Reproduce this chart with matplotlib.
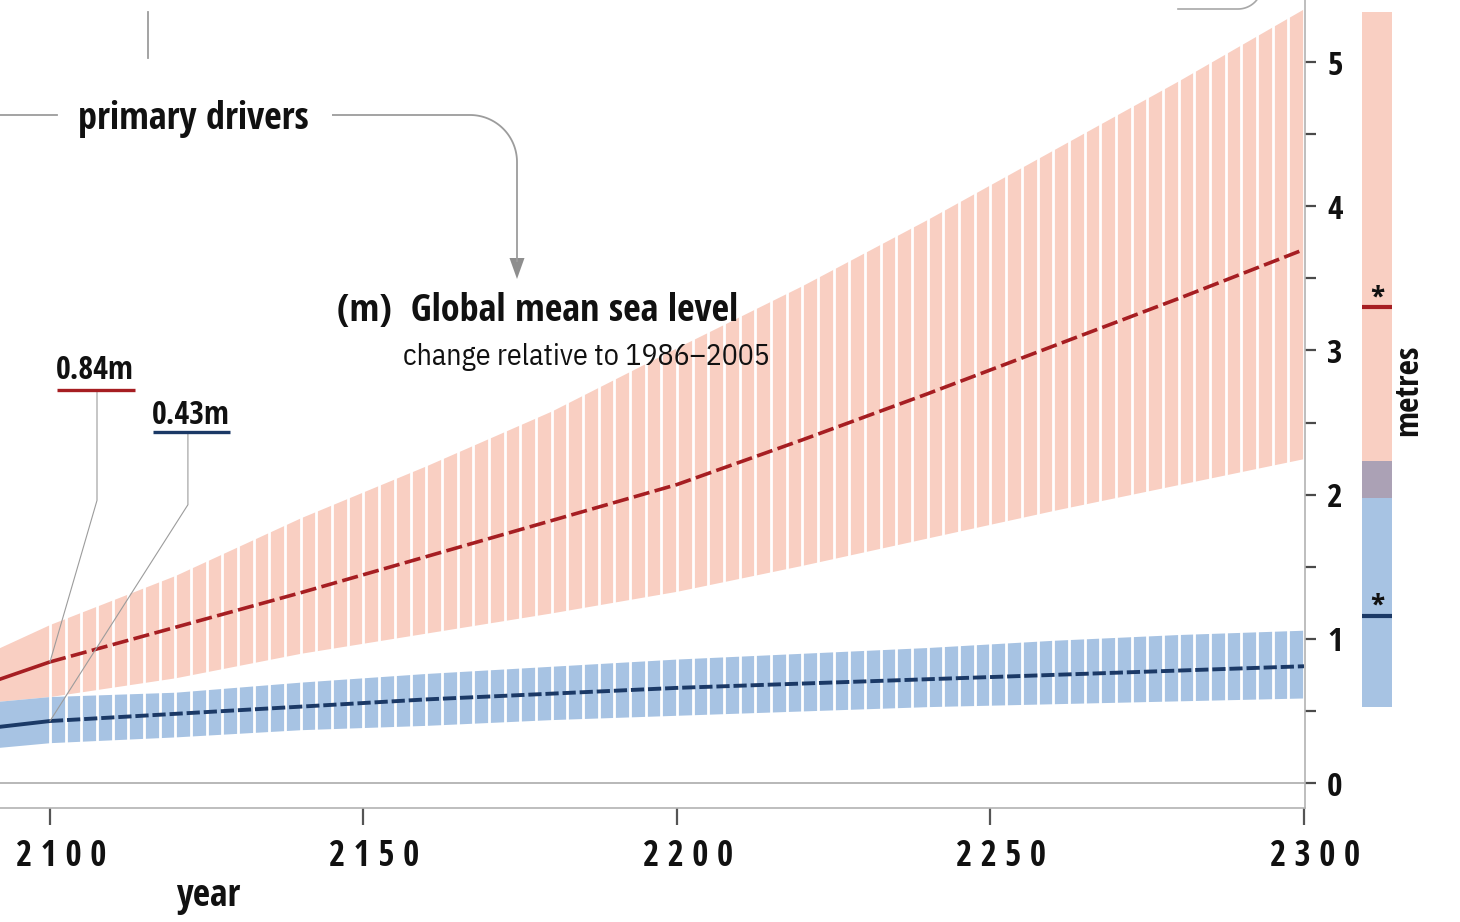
import numpy as np
import matplotlib
matplotlib.use("Agg")
import matplotlib.pyplot as plt
from matplotlib.transforms import ScaledTranslation
from matplotlib.patches import Polygon

plt.rcParams['font.family'] = ['Open Sans Condensed', 'DejaVu Sans']
plt.rcParams['font.weight'] = 'bold'

# ---- projections of global mean sea level (m, relative to 1986-2005) ----
years = [2090, 2100, 2120, 2140, 2160, 2180, 2200, 2220, 2240, 2260, 2280, 2300]

rcp85_median = [0.69, 0.84, 1.08, 1.32, 1.57, 1.82, 2.07, 2.38, 2.70, 3.03, 3.36, 3.70]
rcp85_low = [0.56, 0.60, 0.73, 0.90, 1.04, 1.18, 1.33, 1.51, 1.70, 1.89, 2.07, 2.25]
rcp85_high = [0.90, 1.10, 1.44, 1.84, 2.20, 2.58, 3.02, 3.45, 3.91, 4.39, 4.87, 5.37]

rcp26_median = [0.38, 0.43, 0.48, 0.53, 0.58, 0.62, 0.66, 0.69, 0.72, 0.75, 0.78, 0.81]
rcp26_low = [0.24, 0.28, 0.32, 0.37, 0.40, 0.44, 0.47, 0.50, 0.53, 0.55, 0.57, 0.59]
rcp26_high = [0.56, 0.60, 0.63, 0.70, 0.76, 0.81, 0.86, 0.90, 0.94, 0.99, 1.03, 1.06]

# ranges for 2300 shown in the side bar
bar_rcp85 = (1.98, 5.35)
bar_rcp26 = (0.53, 2.23)
bar_rcp85_median = 3.30
bar_rcp26_median = 1.16

label_year = 2100
xticks = [2100, 2150, 2200, 2250, 2300]
yticks = [0, 1, 2, 3, 4, 5]

# ---- colours ----
PINK = '#F9CFC2'
BLUE = '#A7C3E3'
OVERLAP = '#ABA1B5'
RED = '#A61E22'
NAVY = '#1B3966'
GREY = '#9C9C9C'
TXT = '#111111'

W, H = 1460, 922
fig = plt.figure(figsize=(W / 100, H / 100), dpi=100)
fig.patch.set_facecolor('white')

ax = fig.add_axes([0, 1 - 808 / H, 1305 / W, 808 / H])
ax.set_xlim(2092.03, 2300.16)
ax.set_ylim(-0.173, 5.43)
ax.set_facecolor('white')

# uncertainty bands
ax.fill_between(years, rcp85_low, rcp85_high, color=PINK, lw=0, zorder=1)
ax.fill_between(years, rcp26_low, rcp26_high, color=BLUE, lw=0, zorder=2)

# white separators turning the bands into columns after 2100
sep = np.arange(2100, 2300.01, 2.5)
ax.vlines(sep, 0.12, 5.5, color='white', lw=2.0, zorder=3)

# medians: solid up to 2100, dashed afterwards
i = years.index(label_year)
ax.plot(years[:i + 1], rcp85_median[:i + 1], color=RED, lw=2.6,
        solid_capstyle='butt', zorder=5)
ax.plot(years[i:], rcp85_median[i:], color=RED, lw=2.6, dashes=(4.5, 1.5),
        zorder=5)
ax.plot(years[:i + 1], rcp26_median[:i + 1], color=NAVY, lw=2.8,
        solid_capstyle='butt', zorder=5)
ax.plot(years[i:], rcp26_median[i:], color=NAVY, lw=2.8, dashes=(3.4, 1.0),
        zorder=5)

# zero line
ax.axhline(0, color='#ABABAB', lw=1.2, zorder=0.5)

# spines
for s in ('top', 'left'):
    ax.spines[s].set_visible(False)
for s in ('right', 'bottom'):
    ax.spines[s].set_color('#B3B3B3')
    ax.spines[s].set_linewidth(1.2)
    ax.spines[s].set_zorder(10)

# y axis on the right
ax.yaxis.tick_right()
ax.set_yticks(yticks)
ax.set_yticks(np.arange(0.5, 5.5, 1.0), minor=True)
ax.tick_params(axis='y', which='both', direction='out', length=8, width=1.6,
               color='#4A4A4A', pad=8, labelsize=24, labelcolor=TXT,
               left=False, labelleft=False, right=True, labelright=True)

# x axis
ax.set_xticks(xticks)
ax.set_xticklabels([' '.join(str(t)) for t in xticks])
ax.tick_params(axis='x', direction='out', length=12, width=1.6,
               color='#555555', pad=10, labelsize=25, labelcolor=TXT)
shift = ScaledTranslation(11 / 100, 0, fig.dpi_scale_trans)
for lbl in ax.get_xticklabels():
    lbl.set_transform(lbl.get_transform() + shift)

# value call-outs for 2100
v85 = rcp85_median[i]
v26 = rcp26_median[i]
ax.text(2107.2, 2.80, f'{v85:.2f}m', ha='center', va='baseline', fontsize=23,
        color=TXT, zorder=8)
ax.plot([2101.1, 2113.6], [2.725, 2.725], color=RED, lw=2.4, zorder=8,
        solid_capstyle='butt')
ax.plot([2107.5, 2107.5, label_year], [2.725, 1.96, v85], color=GREY, lw=0.8,
        zorder=6)

ax.text(2122.5, 2.49, f'{v26:.2f}m', ha='center', va='baseline', fontsize=23,
        color=TXT, zorder=8)
ax.plot([2116.4, 2128.7], [2.434, 2.434], color=NAVY, lw=2.4, zorder=8,
        solid_capstyle='butt')
ax.plot([2122.0, 2122.0, label_year], [2.434, 1.93, v26], color=GREY, lw=0.8,
        zorder=6)

# side bar with the 2300 ranges
ax2 = fig.add_axes([1362 / W, 1 - 808 / H, 30 / W, 808 / H])
ax2.set_ylim(ax.get_ylim())
ax2.set_xlim(0, 1)
ax2.axis('off')
ax2.axhspan(bar_rcp85[0], bar_rcp85[1], color=PINK, lw=0)
ax2.axhspan(bar_rcp26[0], bar_rcp26[1], color=BLUE, lw=0)
ax2.axhspan(bar_rcp85[0], bar_rcp26[1], color=OVERLAP, lw=0)
ax2.axhline(bar_rcp85_median, color=RED, lw=3)
ax2.axhline(bar_rcp26_median, color=NAVY, lw=3)
for v in (bar_rcp85_median, bar_rcp26_median):
    ax2.annotate('*', xy=(0.5, v), xycoords=('axes fraction', 'data'),
                 xytext=(0, 0), textcoords='offset points', ha='center',
                 va='baseline', fontsize=22, color=TXT)

# overlay in pixel coordinates for titles and connectors
ov = fig.add_axes([0, 0, 1, 1], zorder=20)
ov.set_xlim(0, W)
ov.set_ylim(H, 0)
ov.axis('off')

ov.text(78, 129, 'primary drivers', fontsize=27.5, va='baseline', color=TXT)
ov.plot([0, 57], [115, 115], color=GREY, lw=1.3)
ov.plot([148, 148], [12, 58], color=GREY, lw=1.3)

r = 47
t = np.linspace(0, np.pi / 2, 40)
arc_x = 470 + r * np.sin(t)
arc_y = 162 - r * np.cos(t)
path_x = np.concatenate([[332], arc_x, [517]])
path_y = np.concatenate([[115], arc_y, [262]])
ov.plot(path_x, path_y, color=GREY, lw=1.3, solid_capstyle='butt')
ov.add_patch(Polygon([[509.5, 258], [524.5, 258], [517, 279]], closed=True,
                     color='#8E8E8E', lw=0))

# connector fragment at the top right
t2 = np.linspace(0, np.pi / 2, 30)
frag_x = np.concatenate([[1178], 1238 + 24 * np.sin(t2)])
frag_y = np.concatenate([[9], -15 + 24 * np.cos(t2)])
ov.plot(frag_x, frag_y, color='#A8A8A8', lw=1.2)

ov.text(337, 321, '(m)  Global mean sea level', fontsize=27.5,
        va='baseline', color=TXT)
ov.text(403, 365, 'change relative to 1986\u20132005', fontsize=21.5,
        family=['IBM Plex Sans Condensed', 'Open Sans'], fontweight='normal',
        va='baseline', color=TXT)
ov.text(208, 906, 'year', fontsize=27, ha='center', va='baseline', color=TXT)
ov.text(1409, 390, 'metres', fontsize=24, rotation=90,
        ha='center', va='center', color=TXT)

fig.savefig('out.png', dpi=100, facecolor='white')
